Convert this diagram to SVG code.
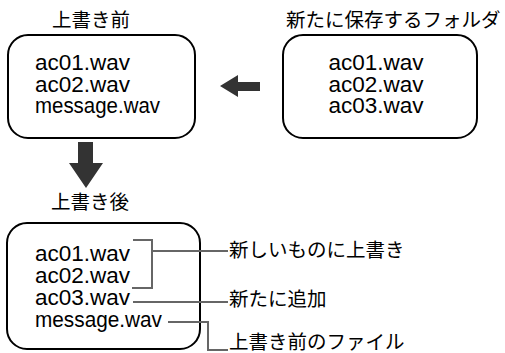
<svg xmlns="http://www.w3.org/2000/svg" width="505" height="353" viewBox="0 0 505 353">
<style>
.box{fill:#fff;stroke:#000;stroke-width:2}
.fn{font-family:"Liberation Sans",Arial,sans-serif;font-size:22.5px;fill:#000}
.jp{font-family:"Noto Sans CJK JP","Noto Sans CJK SC",sans-serif;font-size:19.5px;fill:#000}
.ln{fill:none;stroke:#666;stroke-width:2}
.arr{fill:#333}
</style>
<rect width="505" height="353" fill="#fff"/>
<g id="before">
<text class="jp" x="91" y="27" text-anchor="middle">上書き前</text>
<rect class="box" x="8" y="35" width="187" height="103" rx="20"/>
<text class="fn" x="35" y="70">ac01.wav</text>
<text class="fn" x="35" y="91.5">ac02.wav</text>
<text class="fn" x="35" y="113" textLength="125" lengthAdjust="spacingAndGlyphs">message.wav</text>
</g>
<g id="newfolder">
<text class="jp" x="286" y="27">新たに保存するフォルダ</text>
<rect class="box" x="283" y="35" width="194" height="103" rx="20"/>
<text class="fn" x="376" y="70" text-anchor="middle">ac01.wav</text>
<text class="fn" x="376" y="91.5" text-anchor="middle">ac02.wav</text>
<text class="fn" x="376" y="113" text-anchor="middle">ac03.wav</text>
</g>
<g id="after">
<text class="jp" x="90" y="209" text-anchor="middle">上書き後</text>
<rect class="box" x="7" y="223" width="193" height="126" rx="20"/>
<text class="fn" x="35" y="261">ac01.wav</text>
<text class="fn" x="35" y="283">ac02.wav</text>
<text class="fn" x="35" y="305">ac03.wav</text>
<text class="fn" x="35" y="327" textLength="127" lengthAdjust="spacingAndGlyphs">message.wav</text>
</g>
<g id="label-overwrite"><text class="jp" x="229" y="257">新しいものに上書き</text></g>
<g id="label-added"><text class="jp" x="229" y="306">新たに追加</text></g>
<g id="label-old"><text class="jp" x="229" y="348.5">上書き前のファイル</text></g>
<g id="connectors">
<polygon class="arr" points="220,86 238,75 238,82 260,82 260,91 238,91 238,97"/>
<polygon class="arr" points="78,142 93,142 93,163 103,163 86,188 69,163 78,163"/>
<path class="ln" d="M133,240 H152 V288 H132"/>
<path class="ln" d="M152,251 H228"/>
<path class="ln" d="M133,302 H228"/>
<path class="ln" d="M168,322 H208 V350 H228"/>
</g>
</svg>
